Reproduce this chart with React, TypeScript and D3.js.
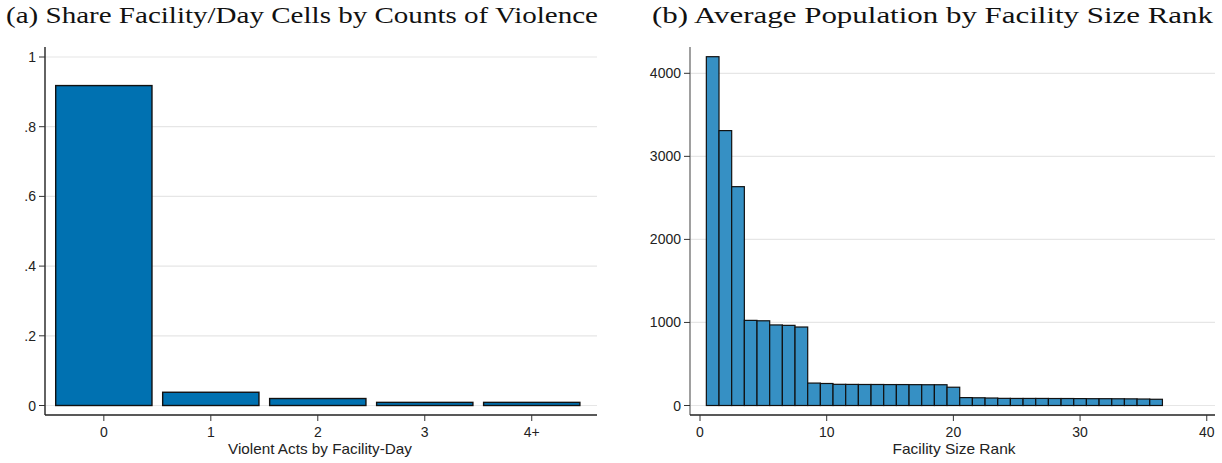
import React, { useEffect, useRef } from 'react';
import * as d3 from 'd3';

// panel (a): share of facility/day cells by count of violent acts
const violenceCats = ['0', '1', '2', '3', '4+'];
const violenceShare = [0.918, 0.038, 0.02, 0.009, 0.009];
const shareTicks = [0, 0.2, 0.4, 0.6, 0.8, 1];

// panel (b): average population by facility size rank
const sizeRank = d3.range(1, 37);
const avgPop = [
  4200, 3310, 2635, 1025, 1020, 970, 965, 945, 270, 265,
  255, 254, 253, 253, 252, 252, 251, 250, 250, 220,
  95, 93, 90, 86, 85, 85, 85, 84, 84, 83,
  82, 82, 81, 80, 78, 75,
];
const popTicks = [0, 1000, 2000, 3000, 4000];
const rankTicks = [0, 10, 20, 30, 40];

const W = 1222;
const H = 463;
const sansFont = '"Liberation Sans", Arial, sans-serif';
const serifFont = '"Liberation Serif", "DejaVu Serif", serif';

const App: React.FC = () => {
  const svgRef = useRef<SVGSVGElement>(null);

  useEffect(() => {
    document.body.style.margin = '0';
    if (!svgRef.current) return;
    const svg = d3.select(svgRef.current);
    svg.selectAll('*').remove();

    const top = 47;
    const y0 = 405.5;
    const axisY = 415;

    const fmtShare = (v: number) => (v === 0 ? '0' : v === 1 ? '1' : d3.format('.1f')(v).replace(/^0/, ''));

    // ---------- panel (a) ----------
    const xa = d3.scaleLinear().domain([-0.55, 4.61]).range([45, 597]);
    const ya = d3.scaleLinear().domain([0, 1]).range([y0, 57]);
    const ga = svg.append('g');

    ga.selectAll('line.grid')
      .data(shareTicks)
      .enter().append('line')
      .attr('x1', 45).attr('x2', 597)
      .attr('y1', d => ya(d)).attr('y2', d => ya(d))
      .attr('stroke', '#e6e6e6').attr('stroke-width', 1.2);

    ga.selectAll('rect')
      .data(violenceShare)
      .enter().append('rect')
      .attr('x', (d, i) => xa(i - 0.45))
      .attr('width', xa(0.45) - xa(-0.45))
      .attr('y', d => ya(d))
      .attr('height', d => ya(0) - ya(d))
      .attr('fill', '#0071b1')
      .attr('stroke', '#111').attr('stroke-width', 1.4);

    ga.append('line').attr('x1', 45).attr('x2', 45).attr('y1', top).attr('y2', axisY).attr('stroke', '#222').attr('stroke-width', 1.4);
    ga.append('line').attr('x1', 45).attr('x2', 597).attr('y1', axisY).attr('y2', axisY).attr('stroke', '#222').attr('stroke-width', 1.4);

    ga.selectAll('line.yt')
      .data(shareTicks)
      .enter().append('line')
      .attr('x1', 39).attr('x2', 45)
      .attr('y1', d => ya(d)).attr('y2', d => ya(d))
      .attr('stroke', '#333');
    ga.selectAll('text.yl')
      .data(shareTicks)
      .enter().append('text')
      .attr('x', 36).attr('y', d => ya(d) + 5)
      .attr('text-anchor', 'end')
      .attr('font-family', sansFont).attr('font-size', 14).attr('fill', '#222')
      .text(d => fmtShare(d));

    ga.selectAll('line.xt')
      .data(violenceCats)
      .enter().append('line')
      .attr('x1', (d, i) => xa(i)).attr('x2', (d, i) => xa(i))
      .attr('y1', axisY).attr('y2', axisY + 6)
      .attr('stroke', '#333');
    ga.selectAll('text.xl')
      .data(violenceCats)
      .enter().append('text')
      .attr('x', (d, i) => xa(i)).attr('y', axisY + 22)
      .attr('text-anchor', 'middle')
      .attr('font-family', sansFont).attr('font-size', 14).attr('fill', '#222')
      .text(d => d);
    ga.append('text')
      .attr('x', 320).attr('y', 454)
      .attr('text-anchor', 'middle')
      .attr('font-family', sansFont).attr('font-size', 15).attr('fill', '#222')
      .attr('textLength', 184).attr('lengthAdjust', 'spacingAndGlyphs')
      .text('Violent Acts by Facility-Day');

    // ---------- panel (b) ----------
    const xb = d3.scaleLinear().domain([-0.79, 40.65]).range([690, 1215]);
    const yb = d3.scaleLinear().domain([0, 4000]).range([y0, 73.3]);
    const gb = svg.append('g');

    gb.selectAll('line.grid')
      .data(popTicks)
      .enter().append('line')
      .attr('x1', 690).attr('x2', 1215)
      .attr('y1', d => yb(d)).attr('y2', d => yb(d))
      .attr('stroke', '#e6e6e6').attr('stroke-width', 1.2);

    gb.selectAll('rect')
      .data(avgPop)
      .enter().append('rect')
      .attr('x', (d, i) => xb(sizeRank[i] - 0.5))
      .attr('width', xb(1) - xb(0))
      .attr('y', d => yb(d))
      .attr('height', d => yb(0) - yb(d))
      .attr('fill', '#3690c4')
      .attr('stroke', '#111').attr('stroke-width', 1.2);

    gb.append('line').attr('x1', 690).attr('x2', 690).attr('y1', top).attr('y2', axisY).attr('stroke', '#777').attr('stroke-width', 1.4);
    gb.append('line').attr('x1', 690).attr('x2', 1215).attr('y1', axisY).attr('y2', axisY).attr('stroke', '#222').attr('stroke-width', 1.4);

    gb.selectAll('line.yt')
      .data(popTicks)
      .enter().append('line')
      .attr('x1', 684).attr('x2', 690)
      .attr('y1', d => yb(d)).attr('y2', d => yb(d))
      .attr('stroke', '#333');
    gb.selectAll('text.yl')
      .data(popTicks)
      .enter().append('text')
      .attr('x', 681).attr('y', d => yb(d) + 5)
      .attr('text-anchor', 'end')
      .attr('font-family', sansFont).attr('font-size', 14).attr('fill', '#222')
      .text(d => String(d));

    gb.selectAll('line.xt')
      .data(rankTicks)
      .enter().append('line')
      .attr('x1', d => xb(d)).attr('x2', d => xb(d))
      .attr('y1', axisY).attr('y2', axisY + 6)
      .attr('stroke', '#333');
    gb.selectAll('text.xl')
      .data(rankTicks)
      .enter().append('text')
      .attr('x', d => xb(d)).attr('y', axisY + 22)
      .attr('text-anchor', 'middle')
      .attr('font-family', sansFont).attr('font-size', 14).attr('fill', '#222')
      .text(d => String(d));
    gb.append('text')
      .attr('x', 954).attr('y', 454)
      .attr('text-anchor', 'middle')
      .attr('font-family', sansFont).attr('font-size', 15).attr('fill', '#222')
      .attr('textLength', 123).attr('lengthAdjust', 'spacingAndGlyphs')
      .text('Facility Size Rank');

    // titles
    svg.append('text')
      .attr('x', 6).attr('y', 23)
      .attr('font-family', serifFont).attr('font-size', 23).attr('fill', '#111')
      .attr('textLength', 592).attr('lengthAdjust', 'spacingAndGlyphs')
      .text('(a) Share Facility/Day Cells by Counts of Violence');
    svg.append('text')
      .attr('x', 652).attr('y', 23)
      .attr('font-family', serifFont).attr('font-size', 23).attr('fill', '#111')
      .attr('textLength', 561).attr('lengthAdjust', 'spacingAndGlyphs')
      .text('(b) Average Population by Facility Size Rank');
  }, []);

  return <svg ref={svgRef} width={W} height={H} style={{ display: 'block', background: '#fff' }} />;
};

export default App;
